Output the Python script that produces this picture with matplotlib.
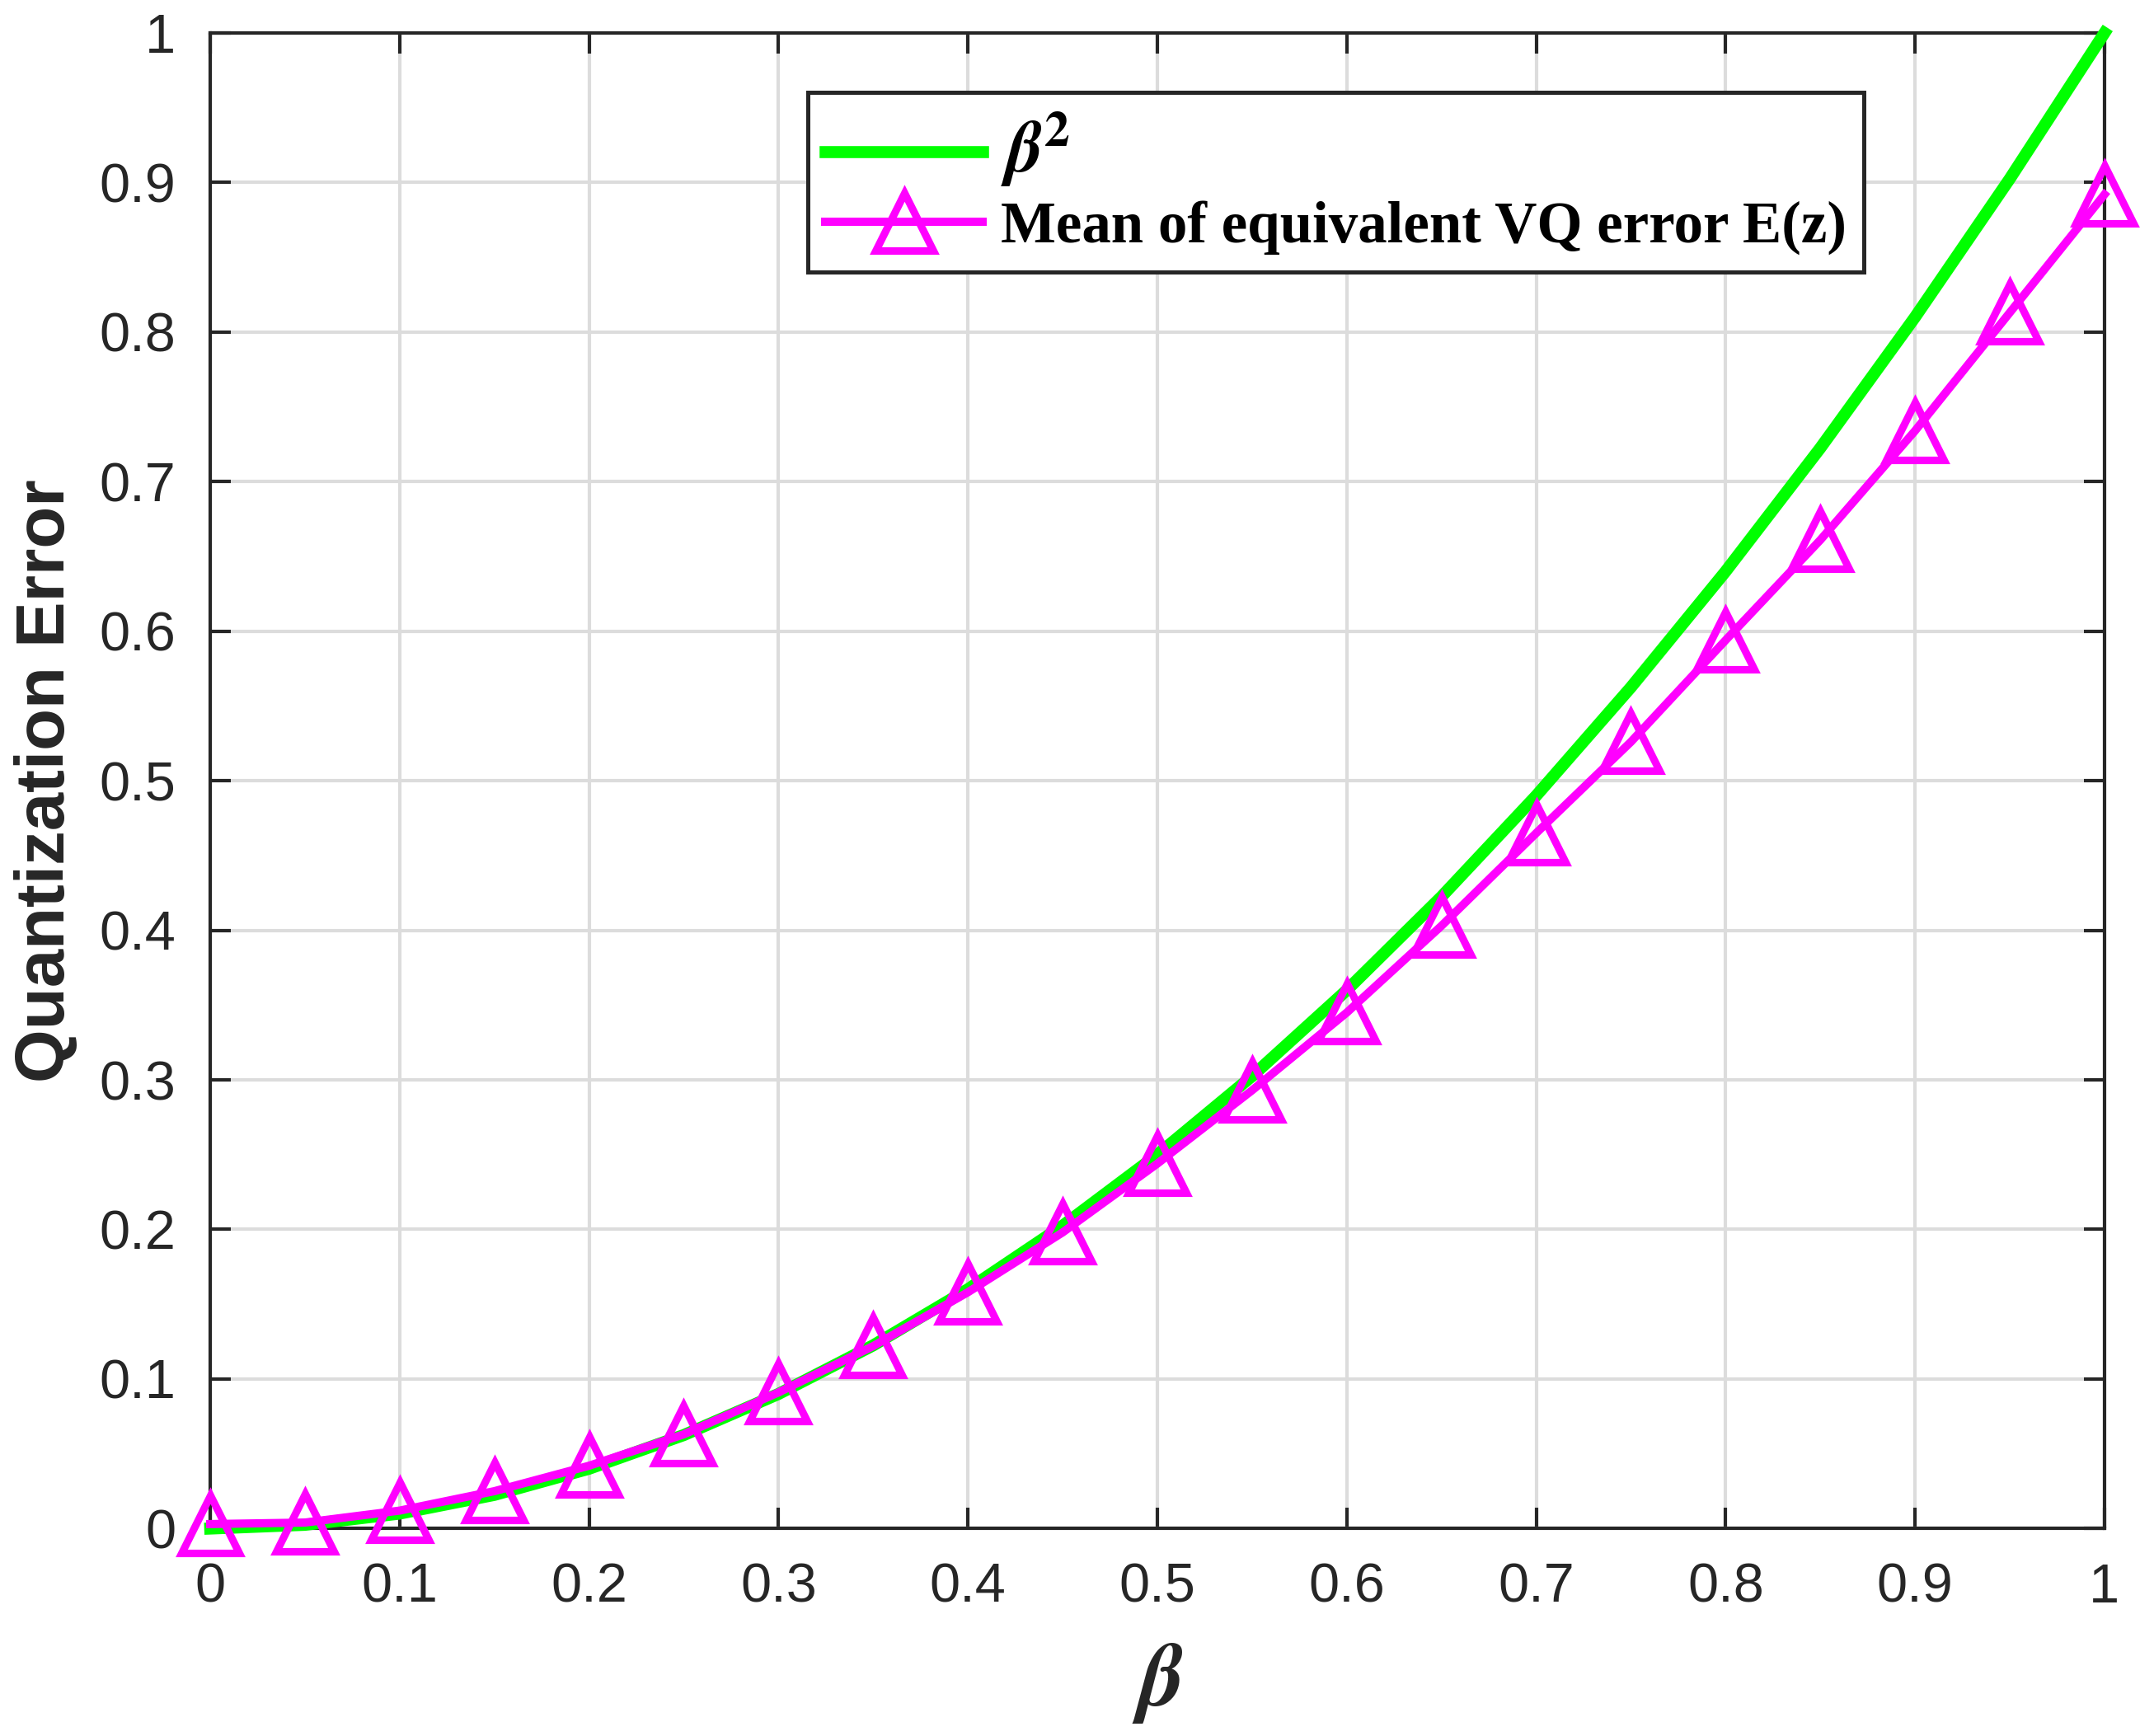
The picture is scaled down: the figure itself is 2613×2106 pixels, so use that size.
import matplotlib.pyplot as plt

# beta values and the two curves
beta = [0.0, 0.05, 0.1, 0.15, 0.2, 0.25, 0.3, 0.35, 0.4, 0.45, 0.5,
        0.55, 0.6, 0.65, 0.7, 0.75, 0.8, 0.85, 0.9, 0.95, 1.0]
beta_sq = [0.0, 0.0025, 0.01, 0.0225, 0.04, 0.0625, 0.09, 0.1225, 0.16, 0.2025, 0.25,
           0.3025, 0.36, 0.4225, 0.49, 0.5625, 0.64, 0.7225, 0.81, 0.9025, 1.0]
vq_error = [0.003, 0.004, 0.012, 0.025, 0.042, 0.063, 0.091, 0.122, 0.158, 0.198, 0.244,
            0.293, 0.345, 0.403, 0.465, 0.526, 0.594, 0.661, 0.734, 0.813, 0.892]

xticks = [0, 0.1, 0.2, 0.3, 0.4, 0.5, 0.6, 0.7, 0.8, 0.9, 1]
xticklabels = ['0', '0.1', '0.2', '0.3', '0.4', '0.5', '0.6', '0.7', '0.8', '0.9', '1']
yticks = [0, 0.1, 0.2, 0.3, 0.4, 0.5, 0.6, 0.7, 0.8, 0.9, 1]
yticklabels = ['0', '0.1', '0.2', '0.3', '0.4', '0.5', '0.6', '0.7', '0.8', '0.9', '1']

dark = '#262626'
plt.rcParams['font.family'] = ['Liberation Sans', 'DejaVu Sans']
plt.rcParams['mathtext.fontset'] = 'stix'

fig = plt.figure(figsize=(2613 / 300, 2106 / 300), dpi=300)
ax = fig.add_axes([0.0976, 0.1195, 0.8794, 0.8615])

ax.plot(beta, beta_sq, color='#00ff00', lw=3.5, label=r'$\boldsymbol{\beta}^{\mathbf{2}}$',
        zorder=3, clip_on=False)
ax.plot(beta, vq_error, color='#ff00ff', lw=2.4, marker='^', markersize=17,
        markerfacecolor='none', markeredgewidth=2.2,
        label='Mean of equivalent VQ error E(z)', zorder=4, clip_on=False)

ax.set_xlim(0, 1)
ax.set_ylim(0, 1)
ax.set_xticks(xticks)
ax.set_xticklabels(xticklabels)
ax.set_yticks(yticks)
ax.set_yticklabels(yticklabels)
ax.tick_params(direction='in', length=6, width=1.0, colors=dark, labelsize=16,
               top=True, right=True, pad=10)
for s in ax.spines.values():
    s.set_color(dark)
    s.set_linewidth(1.0)
ax.grid(True, color='#dcdcdc', lw=1.0)
ax.set_axisbelow(True)

ax.set_ylabel('Quantization Error', fontsize=20, fontweight='bold', color=dark, labelpad=6)
ax.set_xlabel(r'$\boldsymbol{\beta}$', fontsize=26, color=dark, labelpad=8)

leg = ax.legend(loc='upper left', bbox_to_anchor=(0.3, 0.98), fancybox=False,
                edgecolor=dark, framealpha=1, handlelength=2.7, borderpad=0.3,
                labelspacing=0.2, handletextpad=0.3,
                prop={'family': 'Liberation Serif', 'weight': 'bold', 'size': 17})
leg.get_texts()[0].set_fontsize(21)
leg.get_frame().set_linewidth(1.2)

fig.savefig('out.png', dpi=300)
